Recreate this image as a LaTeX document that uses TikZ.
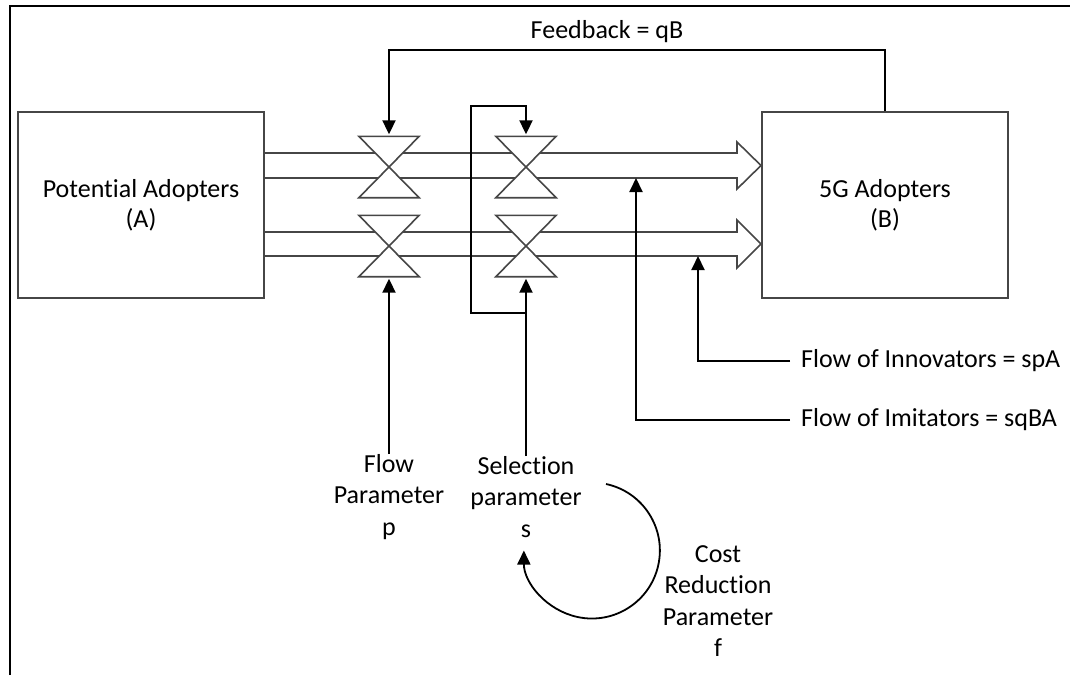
\documentclass[tikz,border=0pt]{standalone}
\usepackage{fontspec}
\setmainfont{Carlito}[Ligatures=NoCommon]
\usetikzlibrary{arrows.meta,calc}
\definecolor{boxgray}{RGB}{70,70,70}
\begin{document}
\begin{tikzpicture}[x=1pt,y=-1pt,
  box/.style={draw=boxgray,line width=1.6pt,fill=white,minimum width=246pt,minimum height=186pt,inner sep=0pt,align=center,font=\fontsize{26}{30}\selectfont},
  pipe/.style={draw=boxgray,line width=1.6pt,line join=miter},
  valve/.style={draw=none,minimum width=60pt,minimum height=61pt,inner sep=0pt},
  vshape/.style={draw=boxgray,line width=1.6pt,fill=white,line join=miter},
  ctrl/.style={draw=black,line width=2pt},
  tip/.style={-{Triangle[length=14pt,width=13pt]},shorten >=2pt},
  lbl/.style={align=center,inner sep=0pt,font=\fontsize{26}{31.5}\selectfont}]
\useasboundingbox (0,0) rectangle (1070,675);
% outer frame (left and top)
\draw[line width=2pt] (9.5,675) -- (9.5,6) -- (1070,6);
% boxes
\node[box] (A) at (141,205) {Potential Adopters\\(A)};
\node[box] (B) at (885,205) {5G Adopters\\(B)};
% pipes
\draw[pipe] (265,153) -- (737,153) -- (737,142) -- (761,165.5) -- (737,189) -- (737,178) -- (265,178);
\draw[pipe] (265,232) -- (737,232) -- (737,220) -- (761,244) -- (737,268) -- (737,256) -- (265,256);
% valves
\node[valve] (v1u) at (389,167) {};
\node[valve] (v1l) at (389,246) {};
\node[valve] (v2u) at (526,167) {};
\node[valve] (v2l) at (526,246) {};
\foreach \v in {v1u,v1l,v2u,v2l}{
  \draw[vshape] (\v.north west) -- (\v.north east) -- (\v.south west) -- (\v.south east) -- cycle;
}
% labels
\node[lbl] (fbl) at (607,32) {Feedback = qB};
\node[lbl] (lp) at (389,497) {Flow\\Parameter\\p};
\node[lbl] (ls) at (526,497) {Selection\\parameter\\s};
\node[lbl] (lc) at (718,601) {Cost\\Reduction\\Parameter\\f};
\node[lbl,anchor=west,inner xsep=11pt] (lin) at (790,361) {Flow of Innovators = spA};
\node[lbl,anchor=west,inner xsep=11pt] (lim) at (790,420) {Flow of Imitators = sqBA};
% coordinates
\coordinate (fb) at (389,50);
\coordinate (br) at (526,313);
\coordinate (lk) at (471,106);
\coordinate (pin) at (698,256);
\coordinate (pim) at (636,178);
\coordinate (cs) at (606,484);
% feedback
\draw[ctrl,tip] (B.north) |- (fb) -- (v1u.north);
% flow parameter
\draw[ctrl,tip] (v1l.south |- lp.north) -- (v1l.south);
% selection parameter
\draw[ctrl,tip] (v2l.south |- ls.north) -- (v2l.south);
\draw[ctrl,tip] (br) -| (lk) -| (v2u.north);
% flows
\draw[ctrl,tip,shorten >=0pt] (lin.west) -| (pin);
\draw[ctrl,tip,shorten >=0pt] (lim.west) -| (pim);
% cost reduction loop
\draw[ctrl,line width=1.8pt,tip,shorten >=0pt] (cs) arc[start angle=-78,end angle=180,radius=68];
\end{tikzpicture}
\end{document}
